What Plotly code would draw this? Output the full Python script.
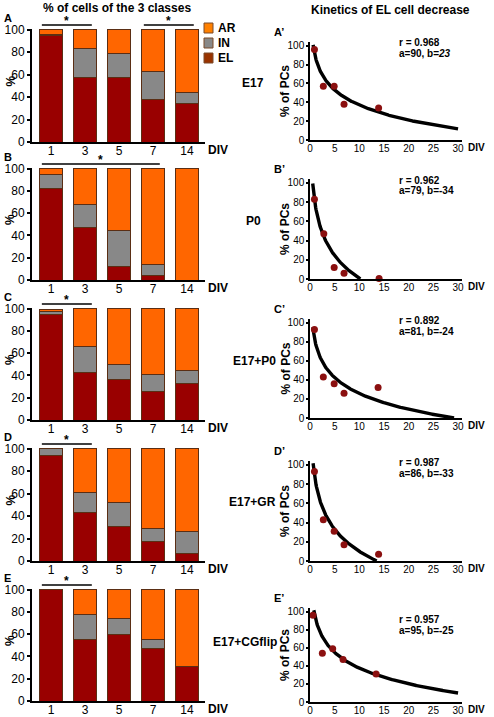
import math
import plotly.graph_objects as go

W, H = 494, 717

# ---------------- data ----------------
div_labels = ["1", "3", "5", "7", "14"]
div_days = [1, 3, 5, 7, 14]
conditions = ["E17", "P0", "E17+P0", "E17+GR", "E17+CGflip"]
panel_left = ["A", "B", "C", "D", "E"]
panel_right = ["A\u2019", "B\u2019", "C\u2019", "D\u2019", "E\u2019"]

EL = [
    [95, 57, 57, 38, 34],
    [82, 47, 12, 4, 0],
    [95, 43, 36, 26, 33],
    [94, 43, 31, 17, 7],
    [100, 55, 60, 47, 31],
]
IN = [
    [1, 26, 22, 25, 10],
    [13, 21, 32, 10, 0],
    [2, 23, 14, 15, 11],
    [6, 18, 21, 12, 19],
    [0, 23, 14, 8, 0],
]
AR = [
    [4, 17, 21, 37, 56],
    [5, 32, 56, 86, 100],
    [2, 34, 50, 59, 56],
    [0, 39, 48, 71, 74],
    [0, 22, 26, 45, 69],
]
# points in the kinetics panels (% of PCs that are EL)
pts_x = [
    [0.9, 2.7, 4.9, 6.9, 13.9],
    [0.9, 2.8, 4.9, 6.9, 14.0],
    [0.9, 2.7, 4.9, 6.9, 13.8],
    [0.9, 2.7, 4.9, 6.9, 13.9],
    [0.6, 2.5, 4.6, 6.7, 13.4],
]
pts_y = [
    [96, 57, 57, 38, 34],
    [83, 47, 12, 6, 0.5],
    [93, 43, 36, 26, 32],
    [93, 43, 31, 17, 7],
    [96, 54, 59, 47, 31],
]
fit_r = ["0.968", "0.962", "0.892", "0.987", "0.957"]
fit_a = [90, 79, 81, 86, 95]
fit_b = [-23, -34, -24, -33, -25]
# significance bars (category index spans)
sig_spans = [[(0, 1), (3, 4)], [(0, 3)], [(0, 1)], [(0, 1)], [(0, 1)]]

# ---------------- colors ----------------
C_EL, C_IN, C_AR = "#990000", "#888888", "#ff6600"
OUTLINE = "#5a2e14"
FONT = "Liberation Sans, Arial, sans-serif"

# ---------------- layout helpers ----------------
def px(x):
    return x / W

def py(y):
    return 1 - y / H

left_x_dom = (32, 205)
left_y = [(29, 142), (168, 280), (308, 420), (448, 561), (589, 701)]
right_x_dom = (310, 462)
right_y = [(42, 140), (179, 279), (319, 418), (461, 561), (608, 702)]
LX_RANGE = (-0.56, 4.53)
RX_RANGE = (0, 30.8)
# (x, anchor) of the condition labels
cond_pos = [(240, "left"), (244, "left"), (278, "right"), (278, "right"), (279, "right")]

fig = go.Figure()
layout = dict(
    width=W, height=H, margin=dict(l=0, r=0, t=0, b=0, pad=0), autosize=False,
    paper_bgcolor="white", plot_bgcolor="white", showlegend=False,
    font=dict(family=FONT, color="black"), barmode="stack",
)
annotations = []
shapes = []

axis_common = dict(showgrid=False, zeroline=False, showline=True, linecolor="black", automargin=False,
                   linewidth=2, ticks="outside", ticklen=3, tickwidth=1.5, tickcolor="black")


def note(x, y, text, size, xanchor="left", angle=0):
    annotations.append(dict(x=px(x), y=py(y), xref="paper", yref="paper", text=text, showarrow=False,
                            font=dict(size=size), xanchor=xanchor, yanchor="middle", textangle=angle))


for i in range(5):
    # ---------- left stacked bars ----------
    xa = f"x{2*i+1}" if i else "x"
    ya = f"y{2*i+1}" if i else "y"
    xi = list(range(5))
    for vals, col, nm in ((EL[i], C_EL, "EL"), (IN[i], C_IN, "IN"), (AR[i], C_AR, "AR")):
        fig.add_trace(go.Bar(x=xi, y=vals, marker=dict(color=col, line=dict(color=OUTLINE, width=1)),
                             width=0.65, name=nm, xaxis=xa, yaxis=ya))
    kx = "xaxis" + (str(2*i+1) if i else "")
    ky = "yaxis" + (str(2*i+1) if i else "")
    top, bot = left_y[i]
    layout[kx] = dict(axis_common, domain=[px(left_x_dom[0]), px(left_x_dom[1])], range=list(LX_RANGE),
                      anchor=ya, tickvals=xi, ticktext=div_labels, ticklabelstandoff=-3,
                      ticks="", tickfont=dict(size=12, family=FONT), linewidth=2)
    layout[ky] = dict(axis_common, domain=[py(bot), py(top)], range=[0, 100.5], anchor=xa,
                      tickvals=[0, 20, 40, 60, 80, 100], tickfont=dict(size=12, family=FONT))
    note(10, (top + bot) / 2 - 4, "<b>%</b>", 12, "center", -90)
    note(206, bot + 8, "<b>DIV</b>", 12)
    note(2, top - 11, f"<b>{panel_left[i]}</b>", 11)
    cxp, anc = cond_pos[i]
    note(cxp, (top + bot) / 2 - 3, f"<b>{conditions[i]}</b>", 12, anc)
    # significance bars
    unit = (left_x_dom[1] - left_x_dom[0]) / (LX_RANGE[1] - LX_RANGE[0])
    for (c0, c1) in sig_spans[i]:
        x0 = left_x_dom[0] + (c0 - 0.27 - LX_RANGE[0]) * unit
        x1 = left_x_dom[0] + (c1 + 0.2 - LX_RANGE[0]) * unit
        yl = top - 4
        shapes.append(dict(type="line", xref="paper", yref="paper", x0=px(x0), x1=px(x1),
                           y0=py(yl), y1=py(yl), line=dict(color="black", width=1.5)))
        note((x0 + x1) / 2, yl - 4, "<b>*</b>", 12, "center")

    # ---------- right kinetics ----------
    xr = f"x{2*i+2}"
    yr = f"y{2*i+2}"
    a, b = fit_a[i], fit_b[i]
    cx, cy = [], []
    n = 400
    for k in range(n + 1):
        xv = 0.55 + (30 - 0.55) * k / n
        yv = a + b * math.log(xv)
        if yv > 103.5:
            continue
        if yv < 0:
            break
        cx.append(xv)
        cy.append(yv)
    fig.add_trace(go.Scatter(x=cx, y=cy, mode="lines", line=dict(color="black", width=3.4),
                             xaxis=xr, yaxis=yr))
    fig.add_trace(go.Scatter(x=pts_x[i], y=pts_y[i], mode="markers",
                             marker=dict(color="#8b1010", size=7), xaxis=xr, yaxis=yr, cliponaxis=False))
    top, bot = right_y[i]
    layout["xaxis" + str(2*i+2)] = dict(axis_common, domain=[px(right_x_dom[0]), px(right_x_dom[1])],
                                        range=list(RX_RANGE), anchor=yr, tickvals=[0, 5, 10, 15, 20, 25, 30],
                                        ticks="", ticklabelstandoff=-2,
                                        tickfont=dict(size=10, family=FONT), linewidth=1.5)
    layout["yaxis" + str(2*i+2)] = dict(axis_common, domain=[py(bot), py(top)], range=[0, 104], anchor=xr,
                                        tickvals=[0, 20, 40, 60, 80, 100], tickfont=dict(size=10, family=FONT),
                                        linewidth=1.5, ticklen=2)
    note(285, (top + bot) / 2, "<b>% of PCs</b>", 12, "center", -90)
    note(466, bot + 7, "<b>DIV</b>", 10)
    note(272, top - 10, f"<b>{panel_right[i]}</b>", 11)
    btxt = f"<i>{abs(b)}</i>" if i == 0 else f"{b}"
    ry = top + (0 if i != 4 else 10)
    note(397, ry + 1, f"<b>r = {fit_r[i]}</b>", 10)
    note(397, ry + 12, f"<b>a={a}, b={btxt}</b>", 10)

# titles
note(117, 8, "<b>% of cells of the 3 classes</b>", 12, "center")
note(390, 10, "<b>Kinetics of EL cell decrease</b>", 12, "center")

# legend
legend_items = [("AR", "#ff8000", 23), ("IN", "#888888", 38), ("EL", "#993300", 53)]
for name, col, yy in legend_items:
    shapes.append(dict(type="rect", xref="paper", yref="paper", x0=px(204), x1=px(213), y0=py(yy + 10), y1=py(yy),
                       fillcolor=col, line=dict(color="#7a4a2a", width=1)))
    note(216, yy + 5, f"<b>{name}</b>", 12)

layout["annotations"] = annotations
layout["shapes"] = shapes
fig.update_layout(**layout)
fig.write_html("out.html", config={"displayModeBar": False},
               post_script="document.body.style.margin='0';document.body.style.padding='0';")
